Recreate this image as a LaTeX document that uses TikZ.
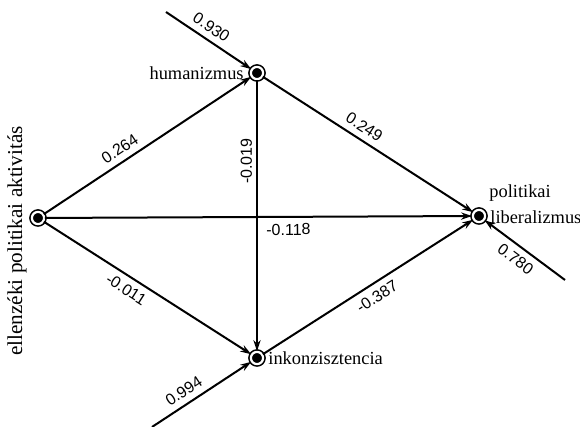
\documentclass[tikz,border=0pt]{standalone}
\usepackage{fontspec}
\setmainfont{Liberation Serif}
\setsansfont{Liberation Sans}
\usetikzlibrary{arrows.meta}
\begin{document}
\begin{tikzpicture}[x=0.5pt,y=-0.5pt,
  var/.style={circle, draw=black, fill=black, double=white, double distance=1.1pt,
     line width=0.8pt, minimum size=6.1pt, inner sep=0pt},
  link/.style={line width=1pt, -{Stealth[length=5.5pt,width=3.6pt]}},
  coef/.style={font=\sffamily\fontsize{8}{9}\selectfont, sloped, inner sep=3pt},
  coefv/.style={font=\sffamily\fontsize{8}{9}\selectfont, inner sep=2pt},
  vname/.style={font=\fontsize{9.2}{11}\selectfont, inner sep=1pt}]
\useasboundingbox (0,0) rectangle (580,427);
\node[var] (A) at (38,218) {};
\node[var] (H) at (257,73) {};
\node[var] (I) at (257,358) {};
\node[var] (L) at (479,216) {};
\coordinate (eH) at (166,12);
\coordinate (eL) at (565,280);
\coordinate (eI) at (152,427);
\node[vname, anchor=east] (tH) at (246,73) {humanizmus};
\node[vname, anchor=west] (tI) at (266,358) {inkonzisztencia};
\node[vname, anchor=west] (tL1) at (488,217) {liberalizmus};
\node[vname, anchor=west] (tL2) at (487,193) {politikai};
\node[font=\fontsize{10.6}{12}\selectfont, inner sep=1pt, rotate=90] (tA) at (17,241) {ellenzéki politikai aktivitás};
\draw[link] (A) -- node[coef, above, pos=0.4] (c1) {0.264} (H);
\draw[link] (H) -- node[coef, above, pos=0.45] (c2) {0.249} (L);
\draw[link] (H) -- node[coefv, rotate=90, anchor=south, pos=0.3] (c3) {-0.019} (I);
\draw[link] (A) -- node[coef, below, pos=0.57] (c4) {-0.118} (L);
\draw[link] (A) -- node[coef, below, pos=0.43] (c5) {-0.011} (I);
\draw[link] (I) -- node[coef, below, pos=0.51] (c6) {-0.387} (L);
\draw[link] (eH) -- node[coef, above, pos=0.45] (c7) {0.930} (H);
\draw[link] (eL) -- node[coef, below, pos=0.52] (c8) {0.780} (L);
\draw[link] (eI) -- node[coef, above, pos=0.39] (c9) {0.994} (I);
\end{tikzpicture}
\end{document}
